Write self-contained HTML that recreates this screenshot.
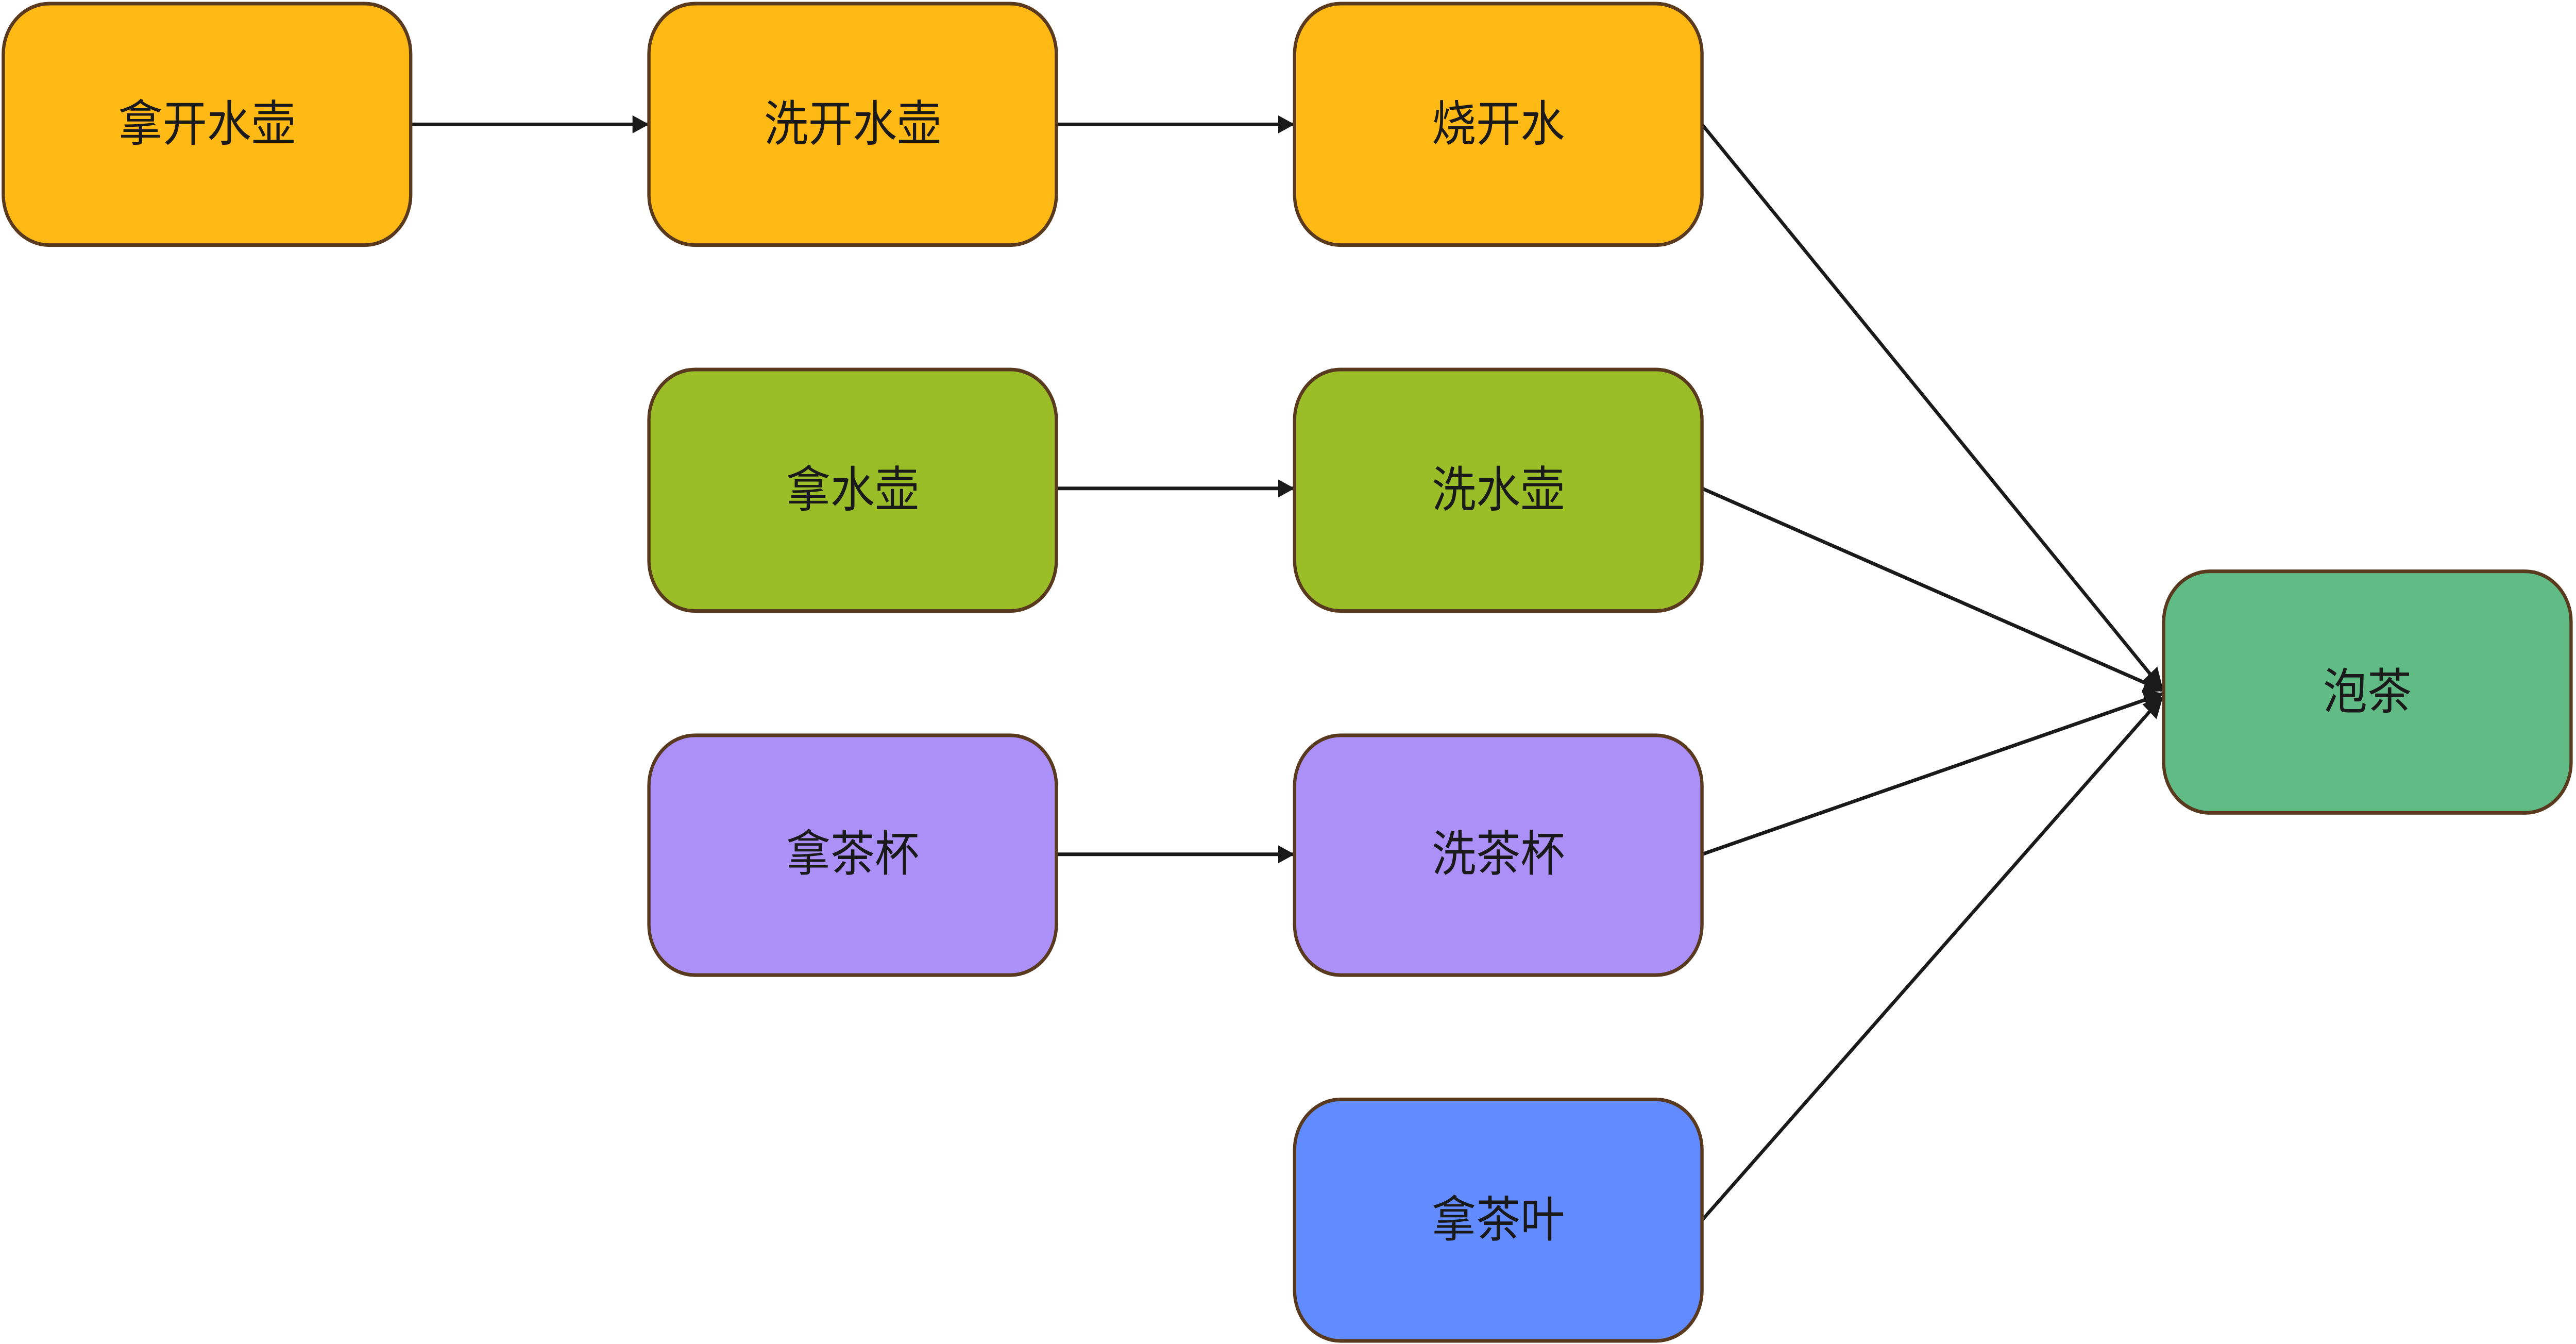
<!DOCTYPE html>
<html><head><meta charset="utf-8"><style>
html,body{margin:0;padding:0;background:#fff;width:100%;height:100%;overflow:hidden;}
svg{display:block;position:fixed;left:0;top:0;width:100vw;height:100vh;}
text{font-family:"Liberation Sans","Noto Sans CJK SC",sans-serif;font-size:27px;fill:#1a1a1a;text-anchor:middle;dominant-baseline:central;}
</style></head><body>
<svg viewBox="0 0 1568 745.7" preserveAspectRatio="none" xmlns="http://www.w3.org/2000/svg">
<defs><marker id="a" markerWidth="10" markerHeight="10" refX="9" refY="5" orient="auto" markerUnits="userSpaceOnUse"><path d="M0,0 L10,5 L0,10 z" fill="#1a1a1a"/></marker>
<marker id="b" markerWidth="12" markerHeight="12" refX="11" refY="6" orient="auto" markerUnits="userSpaceOnUse"><path d="M0,0 L12,6 L0,12 z" fill="#1a1a1a"/></marker></defs>
<g stroke="#1a1a1a" stroke-width="2" fill="none">
<line x1="250" y1="69" x2="394" y2="69" marker-end="url(#a)"/>
<line x1="643" y1="69" x2="787" y2="69" marker-end="url(#a)"/>
<line x1="643" y1="271" x2="787" y2="271" marker-end="url(#a)"/>
<line x1="643" y1="474" x2="787" y2="474" marker-end="url(#a)"/>
<line x1="1036" y1="69" x2="1316" y2="382" marker-end="url(#b)"/>
<line x1="1036" y1="271" x2="1316" y2="383" marker-end="url(#b)"/>
<line x1="1036" y1="474" x2="1316" y2="385" marker-end="url(#b)"/>
<line x1="1036" y1="677" x2="1316" y2="387" marker-end="url(#b)"/>
</g>
<g stroke="#5a3a1f" stroke-width="2">
<rect x="2" y="2" width="248" height="134" rx="28" fill="#FFB915"/>
<rect x="395" y="2" width="248" height="134" rx="28" fill="#FFB915"/>
<rect x="788" y="2" width="248" height="134" rx="28" fill="#FFB915"/>
<rect x="395" y="205" width="248" height="134" rx="28" fill="#9BBE28"/>
<rect x="788" y="205" width="248" height="134" rx="28" fill="#9BBE28"/>
<rect x="395" y="408" width="248" height="133" rx="28" fill="#AB91F7"/>
<rect x="788" y="408" width="248" height="133" rx="28" fill="#AB91F7"/>
<rect x="788" y="610" width="248" height="134" rx="28" fill="#628BFF"/>
<rect x="1317" y="317" width="248" height="134" rx="28" fill="#60BB85"/>
</g>
<text x="126" y="69">拿开水壶</text>
<text x="519" y="69">洗开水壶</text>
<text x="912" y="69">烧开水</text>
<text x="519" y="272">拿水壶</text>
<text x="912" y="272">洗水壶</text>
<text x="519" y="474">拿茶杯</text>
<text x="912" y="474">洗茶杯</text>
<text x="912" y="677">拿茶叶</text>
<text x="1441" y="384">泡茶</text>
</svg>
</body></html>
